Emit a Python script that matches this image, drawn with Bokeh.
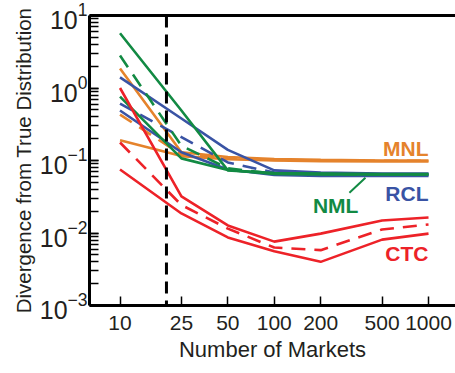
from bokeh.plotting import figure
from bokeh.models import LogAxis, Span, FixedTicker, PrintfTickFormatter, Label
from bokeh.embed import file_html
from bokeh.resources import INLINE

# ---- data ----
markets = [10, 25, 50, 100, 200, 500, 1000]

mnl_hi = [1.86, 0.13, 0.112, 0.105, 0.102, 0.100, 0.100]
mnl_med = [0.43, 0.12, 0.108, 0.102, 0.100, 0.099, 0.099]
mnl_lo = [0.19, 0.115, 0.104, 0.100, 0.098, 0.097, 0.097]

rcl_hi = [1.4, 0.38, 0.14, 0.073, 0.068, 0.066, 0.066]
rcl_med = [0.61, 0.21, 0.094, 0.068, 0.064, 0.063, 0.063]
rcl_lo = [0.49, 0.13, 0.075, 0.063, 0.061, 0.061, 0.061]

nml_hi = [5.7, 0.49, 0.073, 0.067, 0.066, 0.065, 0.065]
nml_med = [2.8, 0.16, 0.078, 0.066, 0.065, 0.064, 0.064]
nml_lo = [0.76, 0.107, 0.074, 0.065, 0.064, 0.064, 0.064]

ctc_hi = [1.0, 0.032, 0.0127, 0.0076, 0.0098, 0.0149, 0.0164]
ctc_med = [0.177, 0.0243, 0.0115, 0.0063, 0.0058, 0.0112, 0.0131]
ctc_lo = [0.075, 0.0186, 0.0087, 0.0056, 0.0040, 0.0081, 0.0098]

cutoff = 20

ORANGE = "#E5832C"
BLUE = "#3953A4"
GREEN = "#128A43"
RED = "#ED2228"
TXT = "#231F20"
FONT = "Liberation Sans"

p = figure(width=455, height=373, x_axis_type="log", y_axis_type="log",
           x_range=(6.34, 1496), y_range=(1e-3, 10),
           output_backend="svg", toolbar_location=None,
           min_border_left=89, min_border_right=0, min_border_top=15, min_border_bottom=68)

p.xgrid.visible = False
p.ygrid.visible = False
p.outline_line_color = None
p.background_fill_color = "white"
p.border_fill_color = "white"

# x axis
xa = p.xaxis[0]
xa.ticker = FixedTicker(ticks=markets, minor_ticks=[])
xa.formatter = PrintfTickFormatter(format="%d")
xa.axis_label = "Number of Markets"
# y axis
ya = p.yaxis[0]
ya.axis_label = "Divergence from True Distribution"

for ax in (xa, ya):
    ax.axis_line_width = 3
    ax.axis_line_color = "black"
    ax.major_tick_in = 9
    ax.major_tick_out = 0
    ax.minor_tick_in = 9
    ax.minor_tick_out = 0
    ax.major_tick_line_color = "black"
    ax.minor_tick_line_color = "black"
    ax.major_tick_line_width = 1.5
    ax.minor_tick_line_width = 1.5
    ax.major_label_text_font = FONT
    ax.major_label_text_font_size = "21px"
    ax.major_label_text_color = TXT
    ax.axis_label_text_font = FONT
    ax.axis_label_text_font_size = "22px"
    ax.axis_label_text_font_style = "normal"
    ax.axis_label_text_color = TXT

ya.axis_label_text_font_size = "20.5px"
ya.major_label_text_font_size = "25px"
xa.major_label_standoff = 10
xa.axis_label_standoff = 4
ya.major_label_standoff = 2
ya.axis_label_standoff = 2

top = LogAxis(ticker=FixedTicker(ticks=[]), axis_line_width=3, axis_line_color="black",
              major_tick_line_color=None, minor_tick_line_color=None,
              major_label_text_font_size="0px")
p.add_layout(top, "above")

p.add_layout(Span(location=cutoff, dimension="height", line_color="black",
                  line_width=3, line_dash="12 7"))

series = [
    (mnl_hi, ORANGE, "solid"), (mnl_med, ORANGE, "14 9"), (mnl_lo, ORANGE, "solid"),
    (rcl_hi, BLUE, "solid"), (rcl_med, BLUE, "14 9"), (rcl_lo, BLUE, "solid"),
    (nml_hi, GREEN, "solid"), (nml_med, GREEN, "14 9"), (nml_lo, GREEN, "solid"),
    (ctc_hi, RED, "solid"), (ctc_med, RED, "14 9"), (ctc_lo, RED, "solid"),
]
for ys, c, dash in series:
    p.line(markets, ys, line_color=c, line_width=2.6, line_dash=dash)

# labels (annotation anchor positions)
labels = [("MNL", 1000, 0.146, ORANGE), ("RCL", 1000, 0.035, BLUE),
          ("NML", 351, 0.024, GREEN), ("CTC", 1000, 0.0052, RED)]
for t, lx, ly, c in labels:
    p.add_layout(Label(x=lx, y=ly, text=t, text_align="right", text_baseline="alphabetic",
                       text_font=FONT, text_font_size="21px", text_font_style="bold",
                       text_color=c))
p.segment(x0=[307], y0=[0.036], x1=[390], y1=[0.058], line_color=GREEN, line_width=2)

open("out.html", "w").write(file_html(p, INLINE))
